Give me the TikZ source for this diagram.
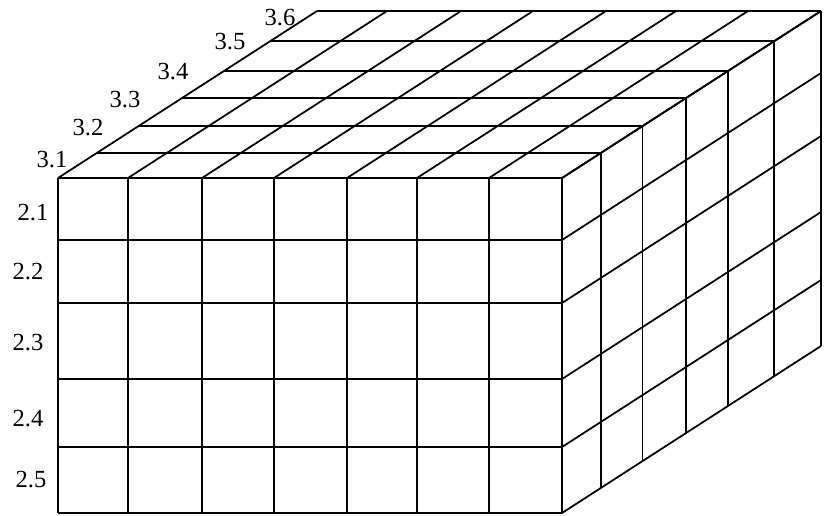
\documentclass[tikz,border=0pt]{standalone}
\usepackage{fontspec}
\setmainfont{Liberation Serif}
\usetikzlibrary{calc}

\begin{document}
\begin{tikzpicture}[x=0.02cm,y=-0.02cm,line width=1pt,
    lab/.style={font=\fontsize{14}{16}\selectfont,inner sep=0pt}]
        \useasboundingbox (0,0) rectangle (832,515);
        % front face
        \foreach \c in {58,128,202,274,347,417,489,562}
          \draw (\c,178) -- (\c,513);
        \foreach \r in {178,240,303,379,447,513}
          \draw (58,\r) -- (562,\r);
        % top face
        \foreach \c in {58,128,202,274,347,417,489,562}
          \draw (\c,178) -- ++(259,-167);
        \foreach \d in {25,52,80,107,137,167}
          \draw ($(58,178)+({1.55*\d},-\d)$) -- ++(504,0);
        % right face
        \foreach \r in {178,240,303,379,447,513}
          \draw (562,\r) -- ++(259,-167);
        \foreach \d in {25,52,80,107,137,167}
          \draw ($(562,178)+({1.55*\d},-\d)$) -- ++(0,335);
        % labels
        \node[lab] (l31) at (52,160) {3.1};
        \node[lab] (l32) at (88,128) {3.2};
        \node[lab] (l33) at (125,100) {3.3};
        \node[lab] (l34) at (173,72) {3.4};
        \node[lab] (l35) at (230,42) {3.5};
        \node[lab] (l36) at (280,18) {3.6};
        \node[lab] (l21) at (33,213) {2.1};
        \node[lab] (l22) at (28,272) {2.2};
        \node[lab] (l23) at (28,343) {2.3};
        \node[lab] (l24) at (28,419) {2.4};
        \node[lab] (l25) at (31,480) {2.5};
\end{tikzpicture}
\end{document}
